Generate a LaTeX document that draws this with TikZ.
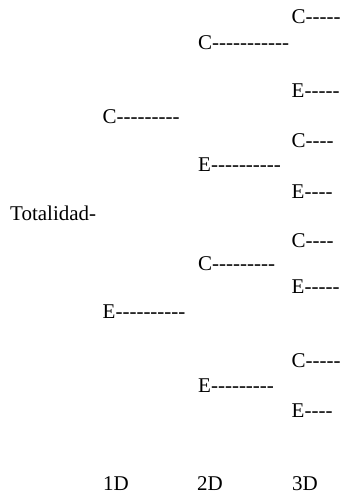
\documentclass[tikz,border=0pt]{standalone}
\usepackage{fontspec}
\setmainfont{Liberation Serif}
\newcommand\rayas[1]{\foreach\k in {1,...,#1}{-\kern0pt}}
\tikzset{rama/.style={anchor=base west, inner sep=0pt, font=\fontsize{21}{25}\selectfont}}
\begin{document}
\begin{tikzpicture}[x=1pt,y=-1pt]
    \useasboundingbox (0,0) rectangle (342,495);
    \node[rama] (tot) at (10,220) {Totalidad-};
    % 1D
    \node[rama] (c) at (102.5,123) {C\rayas{9}};
    \node[rama] (e) at (102.5,318) {E\rayas{10}};
    % 2D
    \node[rama] (cc) at (198,49) {C\rayas{11}};
    \node[rama] (ce) at (198,171) {E\rayas{10}};
    \node[rama] (ec) at (198,270) {C\rayas{9}};
    \node[rama] (ee) at (198,392) {E\rayas{9}};
    % 3D
    \node[rama] (ccc) at (291.5,24) {C\rayas{5}};
    \node[rama] (cce) at (291.5,97) {E\rayas{5}};
    \node[rama] (cec) at (291.5,147) {C\rayas{4}};
    \node[rama] (cee) at (291.5,198) {E\rayas{4}};
    \node[rama] (ecc) at (291.5,247) {C\rayas{4}};
    \node[rama] (ece) at (291.5,293) {E\rayas{5}};
    \node[rama] (eec) at (291.5,367) {C\rayas{5}};
    \node[rama] (eee) at (291.5,417) {E\rayas{4}};
    % niveles
    \node[rama] (d1) at (103,490) {1D};
    \node[rama] (d2) at (197,490) {2D};
    \node[rama] (d3) at (292,490) {3D};
\end{tikzpicture}
\end{document}
